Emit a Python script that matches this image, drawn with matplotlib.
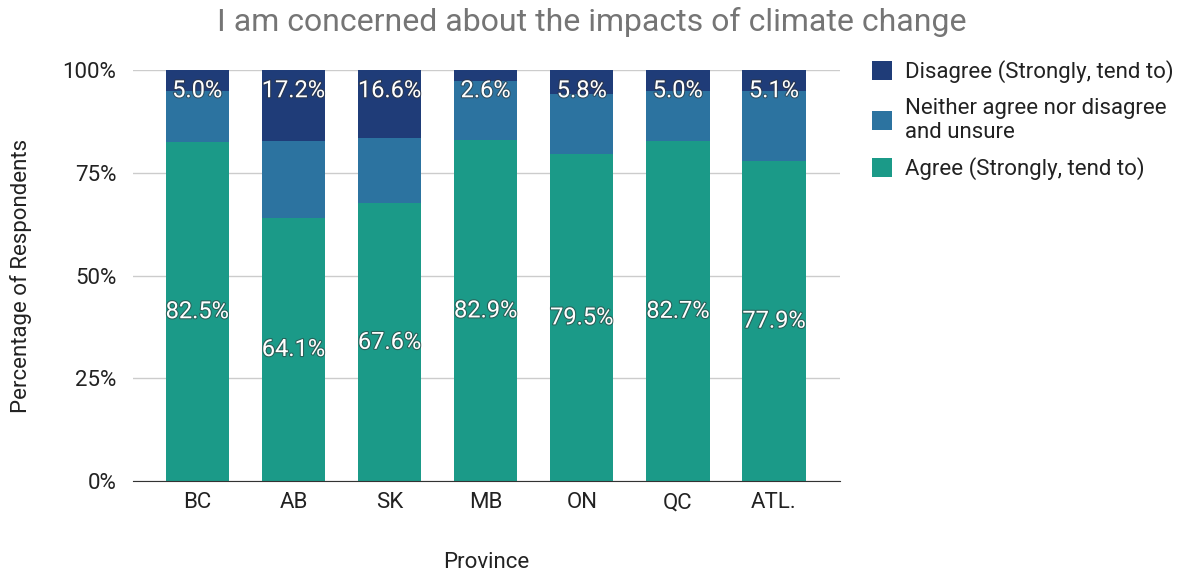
import matplotlib.pyplot as plt
import matplotlib.patheffects as pe
import numpy as np

plt.rcParams["font.family"] = ["Roboto", "DejaVu Sans"]

provinces = ["BC", "AB", "SK", "MB", "ON", "QC", "ATL."]
agree = [82.5, 64.1, 67.6, 82.9, 79.5, 82.7, 77.9]
disagree = [5.0, 17.2, 16.6, 2.6, 5.8, 5.0, 5.1]
neither = [round(100 - a - d, 1) for a, d in zip(agree, disagree)]

series_names = [
    "Disagree (Strongly, tend to)",
    "Neither agree nor disagree\nand unsure",
    "Agree (Strongly, tend to)",
]
yticks = [0, 25, 50, 75, 100]

c_agree = "#1b9a88"
c_neither = "#2c73a0"
c_disagree = "#1f3c78"

fig = plt.figure(figsize=(11.84, 5.75), dpi=100)
ax = fig.add_axes([0.1125, 0.163, 0.597, 0.715])

x = np.arange(len(provinces))
width = 0.66
agree = np.array(agree)
neither = np.array(neither)
disagree = np.array(disagree)

b_agree = ax.bar(x, agree, width, color=c_agree, zorder=3)
b_neither = ax.bar(x, neither, width, bottom=agree, color=c_neither, zorder=3)
b_dis = ax.bar(x, disagree, width, bottom=agree + neither, color=c_disagree, zorder=3)

outline = [pe.withStroke(linewidth=1.6, foreground="#333333", alpha=0.55)]
for xi, a, d in zip(x, agree, disagree):
    ax.text(xi, a / 2, f"{a:.1f}%", ha="center", va="center", color="white",
            fontsize=17, zorder=4, path_effects=outline)
    ax.text(xi, 95.0, f"{d:.1f}%", ha="center", va="center", color="white",
            fontsize=17, zorder=4, path_effects=outline)

ax.set_xlim(-0.667, 6.687)
ax.set_ylim(0, 100)
ax.set_yticks(yticks)
ax.set_yticklabels([f"{t}%" for t in yticks])
ax.set_xticks(x)
ax.set_xticklabels(provinces)
ax.tick_params(axis="both", length=0, labelsize=16, colors="#222222")
ax.tick_params(axis="y", pad=12)
ax.tick_params(axis="x", pad=8)
ax.grid(axis="y", color="#cccccc", linewidth=1, zorder=0)
for s in ["top", "right", "left"]:
    ax.spines[s].set_visible(False)
ax.spines["bottom"].set_color("#333333")
ax.spines["bottom"].set_zorder(5)

ax.set_ylabel("Percentage of Respondents", fontsize=16, color="#222222", labelpad=22)
ax.set_xlabel("Province", fontsize=16, color="#222222", labelpad=28)

fig.text(0.5, 0.962, "I am concerned about the impacts of climate change",
         ha="center", va="center", fontsize=23, color="#757575")

leg = fig.legend([b_dis, b_neither, b_agree], series_names, loc="upper left",
                 bbox_to_anchor=(0.72, 0.93), frameon=False, fontsize=16,
                 handlelength=0.9, handleheight=0.9, handletextpad=0.55,
                 labelspacing=0.65)
for t in leg.get_texts():
    t.set_color("#222222")

fig.savefig("out.png", dpi=100)
